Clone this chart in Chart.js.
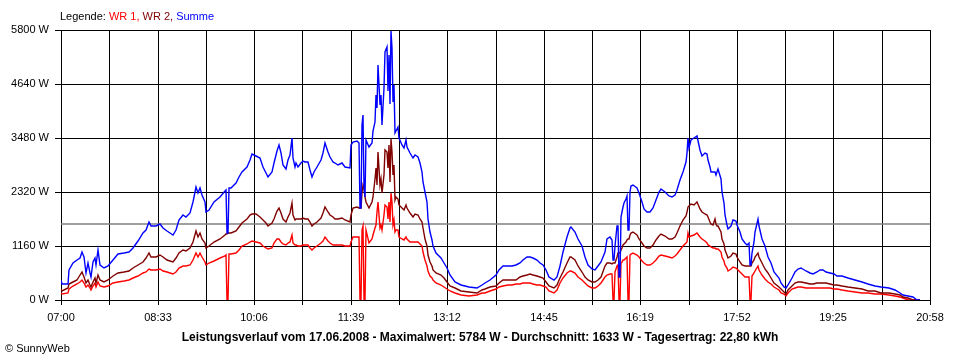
<!DOCTYPE html>
<html><head><meta charset="utf-8">
<script src="https://cdn.jsdelivr.net/npm/chart.js@4"></script>
<style>html,body{margin:0;padding:0;background:#fff;}#wrap{width:960px;height:360px;position:relative;}</style>
</head><body><div id="wrap"><canvas id="c" width="960" height="360"></canvas></div>
<script>
const xTickLabels = ['07:00','08:33','10:06','11:39','13:12','14:45','16:19','17:52','19:25','20:58'];
const yTicks = [0,1160,2320,3480,4640,5800];
const dayMinutes = 838;   // 07:00 .. 20:58
const gridSteps = 18;
const average = 1633;
const legendTitle = 'Legende:';
const seriesNames = ['WR 1', 'WR 2', 'Summe'];
const titleText = 'Leistungsverlauf vom 17.06.2008 - Maximalwert: 5784 W - Durchschnitt: 1633 W - Tagesertrag: 22,80 kWh';
const copyright = '\u00A9 SunnyWeb';

// minutes after 07:00
const minutes = [0,1,7,8,12,15,18,20,22,24,26,28,29,31,33,34,36,38,41,45,50,55,61,66,69,74,79,82,85,87,92,95,98,102,105,108,111,114,118,121,124,127,130,132,134,136,139,140,143,148,153,158,159,160,161,162,164,169,172,175,179,182,184,188,192,195,198,200,203,205,208,
210,212,214,217,219,221,223,224,226,227,229,231,233,235,238,240,242,244,247,251,253,255,257,259,262,264,267,271,274,279,280,282,285,287,288,289,290,291,292,293,294,297,300,301,303,304,305,306,308,309,310,311,312,314,315,316,317,318,319,320,321,322,323,325,326,329,331,333,334,337,339,341,344,346,348,349,351,353,354,356,358,359,362,366,369,372,375,380,386,393,
401,406,409,414,419,422,426,431,435,439,443,446,449,452,455,459,462,465,468,471,475,478,481,484,488,491,492,496,499,502,505,508,512,515,518,521,525,527,529,531,532,533,534,536,537,538,539,540,541,542,543,545,546,547,548,549,550,552,555,557,560,562,565,568,571,574,577,579,582,586,589,592,594,597,600,603,604,605,606,608,610,613,
616,618,621,623,624,626,627,629,631,632,633,634,636,637,639,640,642,643,646,648,651,652,655,657,660,662,663,664,665,666,668,669,672,673,676,679,682,685,688,692,694,697,699,701,705,708,711,714,718,722,725,729,732,735,738,742,745,748,753,759,766,772,778,785,791,798,804,809,812,817,822,825,828];

const summe = [440,340,340,640,790,860,900,1040,930,570,790,570,500,820,900,750,1070,750,680,730,870,980,1000,1040,1110,1270,1430,1500,1680,1580,1580,1630,1540,1480,1430,1400,1500,1720,1830,1790,1860,2110,2430,2290,2400,2260,2110,1900,1930,2110,2210,2350,2360,1430,1430,2400,2410,2510,2650,2760,2860,3010,3130,3090,3060,2860,2720,2650,2760,2940,3210,
3320,3150,2900,2810,3010,3110,3490,3040,2860,2940,2860,2940,2990,2960,2970,2790,2650,2760,2860,3010,3150,3370,3190,3080,2970,2940,2910,2940,2860,2840,3330,3400,3420,3370,1970,1980,3760,3970,2400,2220,3440,3290,3370,3620,3830,4400,4120,5050,4190,4400,3760,4550,5330,5440,4480,5260,4220,5784,5410,4260,4620,3580,3620,3720,3470,3330,3260,3440,3290,3150,3040,3110,3080,2940,2760,2540,2330,2110,1750,1470,1290,1150,1000,900,790,680,540,390,320,290,
260,320,370,440,540,640,730,720,740,750,800,870,920,930,900,860,790,750,640,500,430,500,720,1040,1360,1540,1560,1470,1320,1150,930,750,660,640,720,820,1040,1320,1350,1290,860,860,1150,1580,1590,500,500,1790,1900,2000,2080,2180,2230,1500,1500,2330,2450,2470,2400,2290,2110,1950,1880,1880,1970,2150,2330,2380,2310,2230,2210,2260,2360,2580,2760,2970,3150,3470,3260,3440,3470,3520,
3220,3090,3150,3130,3010,2860,2760,2740,2760,2690,2760,2810,2610,2330,2080,1830,1610,1520,1580,1720,1700,1610,1470,1320,1220,1180,1230,750,750,1000,1250,1470,1740,1580,1320,1150,930,790,610,470,360,290,260,320,470,610,670,680,630,590,560,610,640,640,610,590,560,520,520,470,430,390,340,310,290,250,210,160,110,90,60,10,0];

const wr2 = [230,200,250,340,390,440,540,610,500,360,430,320,290,390,470,360,540,430,390,430,520,570,610,620,680,750,820,900,1000,930,930,970,930,870,840,820,900,1020,1070,1060,1110,1250,1480,1360,1430,1320,1220,1110,1160,1250,1320,1400,1420,1420,1430,1430,1430,1480,1560,1650,1730,1830,1850,1840,1790,1720,1650,1590,1650,1750,1920,
1980,1860,1750,1680,1790,1860,2080,1830,1720,1740,1740,1750,1770,1750,1750,1670,1580,1630,1680,1770,1860,2000,1880,1830,1790,1750,1750,1770,1720,1680,1830,1970,2000,1970,1970,1980,2290,2470,2400,2220,2110,1970,2110,2220,2610,2830,2470,3190,2470,2610,2290,2690,3220,3190,2830,3330,2540,3460,3190,2690,2900,2150,2220,2180,2040,1970,1930,2040,1970,1860,1790,1840,1830,1750,1680,1540,1320,1150,970,820,720,640,570,540,470,390,310,250,200,180,
160,210,240,270,310,360,420,420,430,440,490,520,540,550,530,520,490,470,390,300,260,320,470,610,790,920,920,860,740,610,500,430,380,380,430,500,720,800,800,770,800,800,800,930,1000,1020,1020,1070,1110,1180,1200,1250,1290,1300,1300,1400,1430,1470,1400,1300,1220,1160,1120,1120,1180,1290,1380,1410,1370,1320,1310,1360,1430,1590,1720,1800,1880,1990,2020,2060,2040,2110,
1950,1880,1850,1830,1780,1680,1630,1610,1730,1630,1600,1590,1470,1320,1200,1070,970,900,950,1020,990,920,820,750,720,730,740,740,740,790,860,930,1020,920,790,670,570,470,370,290,230,170,130,210,310,370,390,390,360,340,350,360,370,370,360,340,320,320,310,290,250,230,200,190,160,140,130,100,70,40,10,0,0];

const wr1 = [160,130,140,240,300,340,390,440,360,290,320,250,210,300,360,290,390,310,290,300,360,390,410,430,470,520,570,610,660,640,640,660,630,610,590,560,610,680,730,720,750,860,1020,930,1000,920,820,750,790,840,900,950,970,0,0,980,980,1000,1070,1150,1200,1250,1270,1250,1230,1160,1110,1090,1120,1220,1300,
1320,1250,1200,1180,1220,1250,1400,1220,1180,1180,1170,1170,1180,1180,1180,1120,1070,1110,1160,1220,1270,1360,1270,1220,1180,1180,1180,1180,1170,1150,1250,1360,1360,1360,0,0,1500,1580,0,0,1500,1220,1320,1400,1540,1610,1900,2110,1540,1610,1500,1830,2040,2000,1750,2110,1680,2290,2110,1610,1720,1470,1500,1500,1360,1320,1290,1360,1320,1250,1250,1250,1250,1200,1150,1040,860,720,620,520,470,430,360,320,290,240,190,140,110,90,
110,140,160,200,230,270,300,320,320,340,340,360,360,360,340,330,320,310,270,200,160,210,360,470,570,630,630,570,500,420,360,300,260,260,310,360,500,540,550,560,0,0,610,720,750,0,0,790,820,860,870,910,930,0,0,960,990,1000,970,920,840,790,750,760,800,870,950,970,950,920,910,950,990,1070,1170,1230,1250,1450,1360,1370,1400,1430,
1350,1300,1270,1230,1180,1150,1130,1120,1110,1100,1100,1090,1040,930,840,750,680,630,670,700,690,670,610,550,500,500,500,0,0,520,590,630,720,640,540,450,390,340,290,210,160,120,90,160,240,260,280,290,260,250,250,260,260,260,260,250,240,230,210,200,180,160,140,130,120,110,90,70,50,10,0,0,0];

const FONT = "'Liberation Sans', Arial, sans-serif";
Chart.defaults.font.family = FONT;
Chart.defaults.font.size = 11;
Chart.defaults.color = '#000';

const colors = {wr1:'#ff0000', wr2:'#800000', summe:'#0000ff', avg:'#808080'};
const pts = arr => minutes.map((m, i) => ({x: m, y: arr[i]}));

const textPlugin = {
  id: 'texts',
  afterDraw(chart) {
    const c = chart.ctx;
    c.save();
    c.textBaseline = 'middle';
    c.textAlign = 'left';
    c.font = '11px ' + FONT;
    let x = 60; const y = 17;
    c.fillStyle = '#000';
    c.fillText(legendTitle + ' ', x, y);
    x += c.measureText(legendTitle + ' ').width;
    const cols = [colors.wr1, colors.wr2, colors.summe];
    seriesNames.forEach((n, i) => {
      const t = n + (i < seriesNames.length - 1 ? ', ' : '');
      c.fillStyle = cols[i];
      c.fillText(t, x, y);
      x += c.measureText(t).width;
    });
    c.fillStyle = '#000';
    c.font = 'bold 12px ' + FONT;
    c.textAlign = 'center';
    c.fillText(titleText, 480, 338);
    c.font = '11px ' + FONT;
    c.textAlign = 'left';
    c.fillText(copyright, 5, 349);
    c.restore();
  }
};

new Chart(document.getElementById('c'), {
  type: 'line',
  data: {
    datasets: [
      {label: seriesNames[2], data: pts(summe), borderColor: colors.summe, order: 0},
      {label: seriesNames[1], data: pts(wr2), borderColor: colors.wr2, order: 1},
      {label: seriesNames[0], data: pts(wr1), borderColor: colors.wr1, order: 2},
      {label: 'Durchschnitt', data: [{x: 0, y: average}, {x: dayMinutes, y: average}], borderColor: colors.avg, borderWidth: 1.3, order: 3}
    ]
  },
  options: {
    responsive: false,
    animation: false,
    devicePixelRatio: 1,
    layout: {padding: {left: 0, top: 30, right: 30, bottom: 0}},
    elements: {line: {borderWidth: 1.4, tension: 0, fill: false}, point: {radius: 0}},
    plugins: {legend: {display: false}, tooltip: {enabled: false}, title: {display: false}},
    scales: {
      x: {
        type: 'linear', min: 0, max: dayMinutes, alignToPixels: true,
        afterBuildTicks: s => { s.ticks = Array.from({length: gridSteps + 1}, (_, i) => ({value: i * dayMinutes / gridSteps})); },
        afterFit: s => { s.height = 60; },
        ticks: {autoSkip: false, maxRotation: 0, padding: 6, callback: (v, i) => (i % 2 === 0 ? xTickLabels[i / 2] : '')},
        grid: {color: '#000', lineWidth: 1, tickLength: 5, tickColor: '#000'},
        border: {color: '#000'}
      },
      y: {
        min: 0, max: 5800, alignToPixels: true,
        afterBuildTicks: s => { s.ticks = yTicks.map(v => ({value: v})); },
        afterFit: s => { s.width = 61; },
        ticks: {padding: 6, callback: v => v + ' W'},
        grid: {color: '#000', lineWidth: 1, tickLength: 6, tickColor: '#000'},
        border: {color: '#000'}
      }
    }
  },
  plugins: [textPlugin]
});
</script></body></html>
